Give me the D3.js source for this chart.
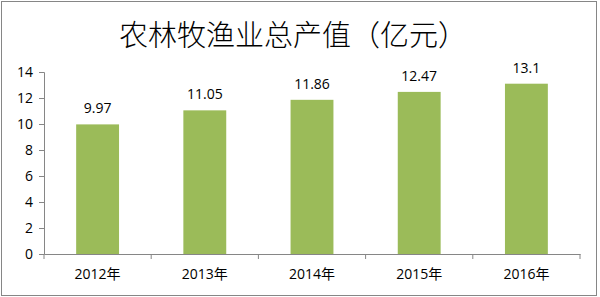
<!DOCTYPE html>
<html>
<head>
<meta charset="utf-8">
<script src="https://cdn.jsdelivr.net/npm/d3@7"></script>
<style>
  body { margin: 0; background: #fff; }
  text { font-family: "Open Sans", "Noto Sans CJK SC", sans-serif; }
</style>
</head>
<body>
<div id="chart"></div>
<script>
const years = ["2012年", "2013年", "2014年", "2015年", "2016年"];
const values = [9.97, 11.05, 11.86, 12.47, 13.1];
const valueLabels = ["9.97", "11.05", "11.86", "12.47", "13.1"];
const yTicks = [0, 2, 4, 6, 8, 10, 12, 14];
const title = "农林牧渔业总产值（亿元）";

const width = 600, height = 297;
const margin = { top: 72, right: 20, bottom: 43, left: 44 };

const svg = d3.select("#chart").append("svg")
    .attr("width", width)
    .attr("height", height);

// outer border
svg.append("rect")
    .attr("x", 1.5).attr("y", 1.5)
    .attr("width", 595).attr("height", 294)
    .attr("fill", "#fff")
    .attr("stroke", "#868686");

const x = d3.scaleBand()
    .domain(years)
    .range([margin.left, width - margin.right])
    .paddingInner(0.6)
    .paddingOuter(0.3);

const y = d3.scaleLinear()
    .domain([0, 14])
    .range([height - margin.bottom, margin.top]);

// bars
svg.selectAll("rect.bar")
    .data(values)
    .join("rect")
    .attr("class", "bar")
    .attr("x", (d, i) => x(years[i]))
    .attr("y", d => y(d))
    .attr("width", x.bandwidth())
    .attr("height", d => y(0) - y(d))
    .attr("fill", "#9bbb59");

// value labels
svg.selectAll("text.val")
    .data(values)
    .join("text")
    .attr("class", "val")
    .attr("x", (d, i) => x(years[i]) + x.bandwidth() / 2)
    .attr("y", d => y(d) - 11)
    .attr("text-anchor", "middle")
    .attr("font-size", "14px")
    .attr("fill", "#000")
    .text((d, i) => valueLabels[i]);

// y axis
const yAxis = svg.append("g")
    .attr("transform", `translate(${margin.left},0)`)
    .call(d3.axisLeft(y).tickValues(yTicks).tickSize(5).tickPadding(6));
yAxis.selectAll("text").attr("font-size", "14px").attr("fill", "#000")
    .style("font-family", "'Open Sans', sans-serif");

// x axis: ticks at category boundaries
const xAxis = svg.append("g")
    .attr("transform", `translate(0,${y(0)})`)
    .call(d3.axisBottom(x).tickSize(0).tickPadding(15));
xAxis.selectAll("text").attr("font-size", "14px").attr("fill", "#000");
const step = x.step();
const bounds = d3.range(years.length + 1).map(i => margin.left + i * step);
xAxis.selectAll("line.sep")
    .data(bounds)
    .join("line")
    .attr("class", "sep")
    .attr("x1", d => d).attr("x2", d => d)
    .attr("y1", 0).attr("y2", 5)
    .attr("stroke", "#868686");

svg.selectAll(".domain").attr("stroke", "#868686");
svg.selectAll(".tick line").attr("stroke", "#868686");

// title
svg.append("text")
    .attr("x", 293)
    .attr("y", 33)
    .attr("text-anchor", "middle")
    .attr("dominant-baseline", "central")
    .attr("font-size", "29px")
    .style("font-family", "'Noto Sans CJK SC', sans-serif")
    .attr("font-weight", 300)
    .attr("fill", "#000")
    .text(title);
</script>
</body>
</html>
